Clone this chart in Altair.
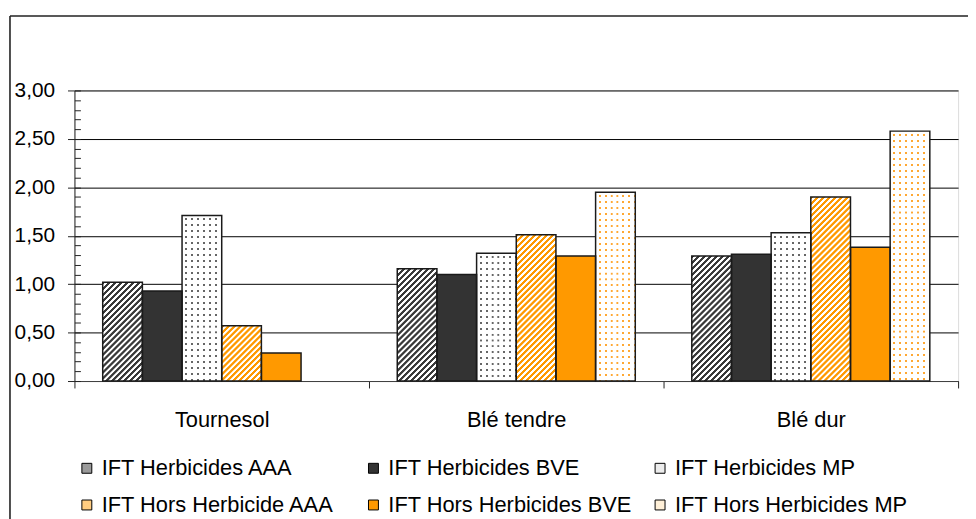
import math
import altair as alt
import pandas as pd

# ---------------- data ----------------
categories = ["Tournesol", "Blé tendre", "Blé dur"]
series = [
    "IFT Herbicides AAA",
    "IFT Herbicides BVE",
    "IFT Herbicides MP",
    "IFT Hors Herbicide AAA",
    "IFT Hors Herbicides BVE",
    "IFT Hors Herbicides MP",
]
herb_aaa = [1.02, 1.16, 1.29]
herb_bve = [0.93, 1.10, 1.31]
herb_mp = [1.71, 1.32, 1.53]
hors_aaa = [0.57, 1.51, 1.90]
hors_bve = [0.29, 1.29, 1.38]
hors_mp = [None, 1.95, 2.58]
y_ticks = [0.0, 0.5, 1.0, 1.5, 2.0, 2.5, 3.0]

all_values = [herb_aaa, herb_bve, herb_mp, hors_aaa, hors_bve, hors_mp]
rows = []
for s, vals in zip(series, all_values):
    for c, v in zip(categories, vals):
        if v is not None:
            rows.append({"cat": c, "series": s, "value": v})
df = pd.DataFrame(rows)

# ---------------- layout / style ----------------
FONT = "Liberation Sans"
W, H = 891, 293
YMAX = 3.0
P_OUTER = 0.7125
BAR_W = (W / len(categories)) / (len(series) + 2 * P_OUTER)

legend_colors = ["#9a9a9a", "#333333", "#ececec", "#ffcc80", "#ff9900", "#fff0d8"]

X_axis = alt.Axis(title=None, tickBand="extent", tickSize=7, labelFontSize=22,
                  labelFont=FONT, labelPadding=22, labelColor="black",
                  domainColor="#444444", tickColor="#222222", labelAngle=0,
                  grid=False)
X_scale = alt.Scale(domain=categories, paddingInner=0, paddingOuter=0)
XE = alt.X("cat:N", scale=X_scale, axis=X_axis)
XO = alt.XOffset("series:N", scale=alt.Scale(domain=series, paddingInner=0,
                                              paddingOuter=P_OUTER))
Y_scale = alt.Scale(domain=[0, YMAX], nice=False, zero=True)
Y_axis = alt.Axis(title=None, values=y_ticks,
                  labelExpr="replace(format(datum.value, '.2f'), '.', ',')",
                  tickSize=7, labelPadding=13, labelFontSize=21, labelFont=FONT,
                  labelColor="black", gridColor="#000000", gridWidth=1,
                  domainColor="#222222", tickColor="#222222")
minor_axis = alt.Axis(orient="right", offset=-W, title=None,
                      values=[round(i * 0.1, 1) for i in range(31)],
                      labels=False, domain=False, grid=False, ticks=True,
                      tickSize=6, tickColor="#222222")

Y_plain = alt.Y("value:Q", scale=Y_scale, axis=None)


def stops_for(period_t, pattern):
    out = []
    k = 0
    while True:
        done = False
        for f, col in pattern:
            o = (k + f) * period_t
            if o > 1:
                done = True
                break
            out.append({"offset": round(o, 5), "color": col})
        if done:
            break
        k += 1
    return out


def hatch_fill(v, dark):
    h = v / YMAX * H
    w = BAR_W
    denom = w * w + h * h
    period = 6.0
    pt = period * w / denom
    pattern = [(0, dark), (0.42, dark), (0.52, "#ffffff"), (0.9, "#ffffff")]
    return {"gradient": "linear", "x1": 0, "y1": 0, "x2": 1, "y2": h / w,
            "stops": stops_for(pt, pattern)}


CLEAR = "rgba(255,255,255,0)"
DOT_P, DOT_D = 6.0, 2.0
dot_pattern = [(0, "#ffffff"), (0.5, "#ffffff"), (0.52, CLEAR),
               (0.5 + DOT_D / DOT_P, CLEAR), (0.5 + DOT_D / DOT_P + 0.02, "#ffffff")]


def vstripes_fill():
    return {"gradient": "linear", "x1": 0, "y1": 0, "x2": 1, "y2": 0,
            "stops": stops_for(DOT_P / BAR_W, dot_pattern)}


def hstripes_fill(v):
    h = v / YMAX * H
    return {"gradient": "linear", "x1": 0, "y1": 0, "x2": 0, "y2": 1,
            "stops": stops_for(DOT_P / h, dot_pattern)}


def sel(c, s):
    return (alt.datum.cat == c) & (alt.datum.series == s)


layers = []

# base layer (carries legend and axes)
base = alt.Chart().mark_bar().encode(
    x=XE,
    xOffset=XO,
    y=alt.Y("value:Q", scale=Y_scale, axis=Y_axis),
    color=alt.Color("series:N", scale=alt.Scale(domain=series, range=legend_colors),
                    legend=alt.Legend(orient="none", legendX=1.5, legendY=370,
                                      direction="horizontal",
                                      columns=3, gridAlign="all", columnPadding=17,
                                      rowPadding=15, symbolType="square",
                                      symbolSize=100, symbolStrokeColor="black",
                                      symbolStrokeWidth=1, symbolOpacity=1,
                                      labelFontSize=22, labelFont=FONT,
                                      labelColor="black", labelOffset=4,
                                      labelLimit=500, title=None, padding=0)),
)
layers.append(base)

# hatched bars
for s, vals, dark in [(series[0], herb_aaa, "#3a3a3a"), (series[3], hors_aaa, "#ff9900")]:
    for c, v in zip(categories, vals):
        if v is None:
            continue
        layers.append(
            alt.Chart().mark_bar(fill=hatch_fill(v, dark)).encode(
                x=XE, xOffset=XO, y=Y_plain
            ).transform_filter(sel(c, s))
        )

# dotted bars: solid dot colour, then white grids with transparent gaps
for s, dotc in [(series[2], "#666666"), (series[5], "#ffa833")]:
    layers.append(
        alt.Chart().mark_bar(fill=dotc).encode(x=XE, xOffset=XO, y=Y_plain)
        .transform_filter(alt.datum.series == s)
    )
layers.append(
    alt.Chart().mark_bar(fill=vstripes_fill()).encode(x=XE, xOffset=XO, y=Y_plain)
    .transform_filter((alt.datum.series == series[2]) | (alt.datum.series == series[5]))
)
for s, vals in [(series[2], herb_mp), (series[5], hors_mp)]:
    for c, v in zip(categories, vals):
        if v is None:
            continue
        layers.append(
            alt.Chart().mark_bar(fill=hstripes_fill(v)).encode(
                x=XE, xOffset=XO, y=Y_plain
            ).transform_filter(sel(c, s))
        )

# borders + minor ticks
layers.append(
    alt.Chart().mark_bar(fill="white", fillOpacity=0, stroke="#1a1a1a", strokeWidth=1.5)
    .encode(x=XE, xOffset=XO,
            y=alt.Y("value:Q", scale=Y_scale, axis=minor_axis))
)

# outer frame
frame_data = alt.Data(values=[{"k": 1}])
layers.append(
    alt.Chart(frame_data).mark_rule(color="#222222", strokeWidth=1.6).encode(
        x=alt.value(-65), x2=alt.value(W + 30), y=alt.value(-75))
)
layers.append(
    alt.Chart(frame_data).mark_rule(color="#222222", strokeWidth=1.6).encode(
        x=alt.value(-65), y=alt.value(-75), y2=alt.value(H + 160))
)

chart = alt.layer(*layers, data=df).resolve_axis(y="independent").properties(
    width=W, height=H,
    padding={"left": 67, "top": 81, "right": 10, "bottom": 137},
    autosize=alt.AutoSizeParams(type="none"),
).configure_view(stroke=None).configure(font=FONT)

chart.save("out.html", embed_options={"renderer": "svg", "actions": False})
